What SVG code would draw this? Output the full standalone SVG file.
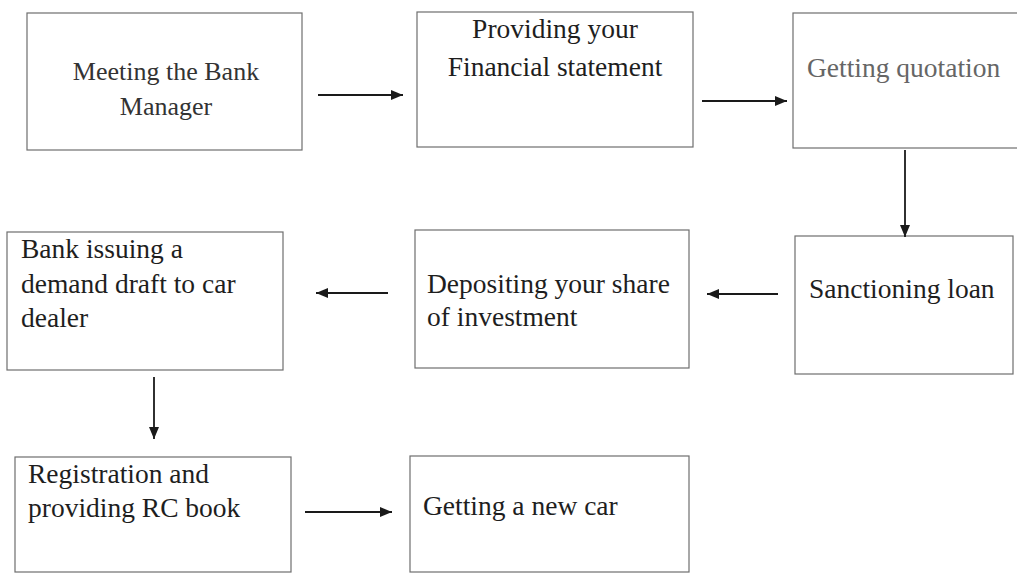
<svg xmlns="http://www.w3.org/2000/svg" width="1017" height="574" viewBox="0 0 1017 574">
<style>
.box{fill:#fff;stroke:#6e6e6e;stroke-width:1.2}
.t{font-family:"Liberation Serif","Times New Roman",serif;font-size:27.5px;fill:#1e1e1e}
.c{text-anchor:middle}
.con{stroke:#1a1a1a;stroke-width:1.8;fill:none;marker-end:url(#ah)}
</style>
<defs>
<marker id="ah" markerUnits="userSpaceOnUse" markerWidth="14" markerHeight="12" refX="12" refY="6" orient="auto">
<path d="M0,1 L12,6 L0,11 z" fill="#1a1a1a"/>
</marker>
</defs>
<rect width="1017" height="574" fill="#fff"/>
<g id="n1"><rect class="box" x="27" y="13" width="275" height="137"/>
<text class="t c" x="166" y="80" style="font-size:26px;fill:#333">Meeting the Bank</text>
<text class="t c" x="166" y="115" style="font-size:26px;fill:#333">Manager</text></g>
<g id="n2"><rect class="box" x="417" y="12" width="276" height="135"/>
<text class="t c" x="555" y="38">Providing your</text>
<text class="t c" x="555" y="76">Financial statement</text></g>
<g id="n3"><rect class="box" x="793" y="13" width="230" height="135"/>
<text class="t" x="807" y="77" style="fill:#666">Getting quotation</text></g>
<g id="n4"><rect class="box" x="795" y="236" width="218" height="138"/>
<text class="t" x="809" y="298">Sanctioning loan</text></g>
<g id="n5"><rect class="box" x="415" y="230" width="274" height="138"/>
<text class="t" x="427" y="293">Depositing your share</text>
<text class="t" x="427" y="326">of investment</text></g>
<g id="n6"><rect class="box" x="7" y="232" width="276" height="138"/>
<text class="t" x="21" y="258">Bank issuing a</text>
<text class="t" x="21" y="293">demand draft to car</text>
<text class="t" x="21" y="327">dealer</text></g>
<g id="n7"><rect class="box" x="15" y="457" width="276" height="115"/>
<text class="t" x="28" y="483">Registration and</text>
<text class="t" x="28" y="517">providing RC book</text></g>
<g id="n8"><rect class="box" x="410" y="456" width="279" height="116"/>
<text class="t" x="423" y="515">Getting a new car</text></g>
<g id="connectors">
<line class="con" x1="318" y1="95" x2="403" y2="95"/>
<line class="con" x1="702" y1="101" x2="787" y2="101"/>
<line class="con" x1="905" y1="150" x2="905" y2="237"/>
<line class="con" x1="778" y1="294" x2="707" y2="294"/>
<line class="con" x1="388" y1="293" x2="316" y2="293"/>
<line class="con" x1="154" y1="377" x2="154" y2="439"/>
<line class="con" x1="305" y1="512" x2="392" y2="512"/>
</g>
</svg>
